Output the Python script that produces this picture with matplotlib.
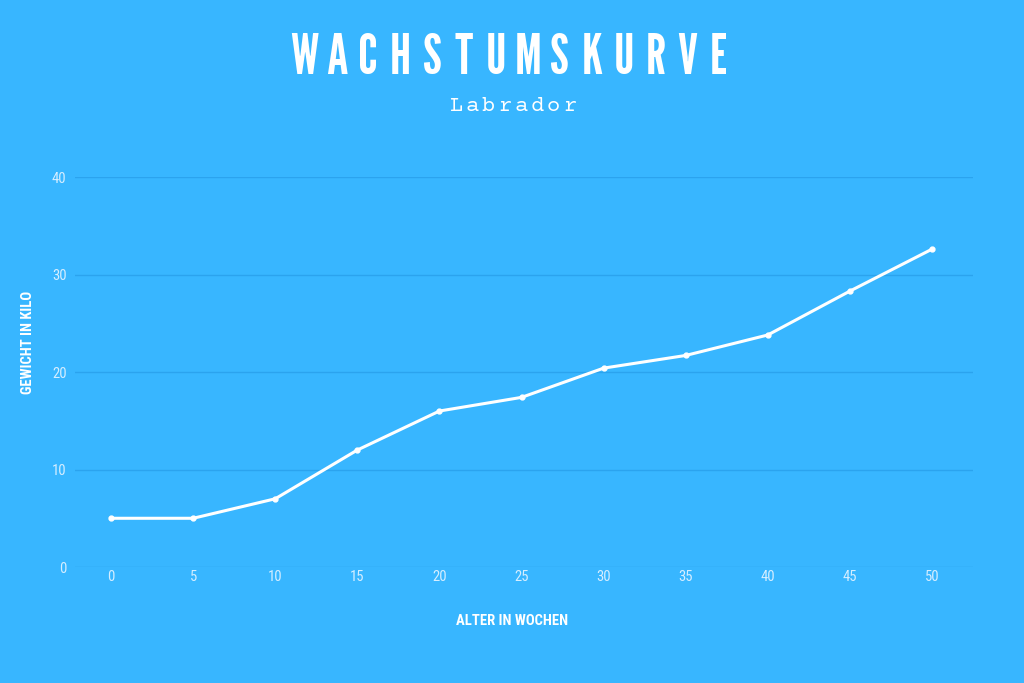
import matplotlib
matplotlib.use("Agg")
import matplotlib.pyplot as plt

# Daten
wochen = [0, 5, 10, 15, 20, 25, 30, 35, 40, 45, 50]
gewicht = [5.0, 5.0, 7.0, 12.0, 16.0, 17.4, 20.4, 21.7, 23.8, 28.3, 32.6]
y_ticks = [0, 10, 20, 30, 40]

title = "WACHSTUMSKURVE"
subtitle = "Labrador"

bg = "#38B6FF"
grid_col = "#2BA3EE"
tick_col = "#D6EEFF"
gothic = ["League Gothic", "Oswald", "DejaVu Sans"]
narrow = ["Roboto Condensed", "Oswald", "DejaVu Sans"]
mono = ["Courier Prime", "Liberation Mono", "DejaVu Sans Mono"]

fig = plt.figure(figsize=(10.24, 6.83), dpi=100, facecolor=bg)
ax = fig.add_axes([0.0732, 0.1698, 0.8770, 0.5710])
ax.set_facecolor(bg)

ax.plot(wochen, gewicht, color="white", lw=2.2, marker="o", ms=3.5,
        solid_capstyle="round", zorder=3)

ax.set_xlim(-2.2, 52.5)
ax.set_ylim(0, 40)
ax.set_xticks(wochen)
ax.set_yticks(y_ticks)
ax.grid(axis="y", color=grid_col, lw=1)
ax.set_axisbelow(True)
for s in ax.spines.values():
    s.set_visible(False)
ax.tick_params(length=0, colors=tick_col, labelsize=10.5)
ax.tick_params(axis="y", pad=6)
ax.tick_params(axis="x", pad=2)
for lab in ax.get_xticklabels() + ax.get_yticklabels():
    lab.set_family(narrow)

ax.set_xlabel("ALTER IN WOCHEN", color="white", fontsize=10.5, fontweight="bold",
              family=narrow)
ax.set_ylabel("GEWICHT IN KILO", color="white", fontsize=10.5, fontweight="bold",
              family=narrow)
ax.xaxis.set_label_coords(0.4866, -0.121)
ax.yaxis.set_label_coords(-0.0446, 0.577)

# Titel mit Sperrung
step = 31.9
x0 = 512 - step * (len(title) - 1) / 2
for i, ch in enumerate(title):
    fig.text((x0 + i * step) / 1024, 1 - 58 / 683, ch, color="white",
             fontsize=40, family=gothic, ha="center", va="center")

step2 = 16.2
x1 = 513 - step2 * (len(subtitle) - 1) / 2
for i, ch in enumerate(subtitle):
    fig.text((x1 + i * step2) / 1024, 1 - 106 / 683, ch, color="white",
             fontsize=16, family=mono, ha="center", va="center")

fig.savefig("out.png", dpi=100, facecolor=bg)
